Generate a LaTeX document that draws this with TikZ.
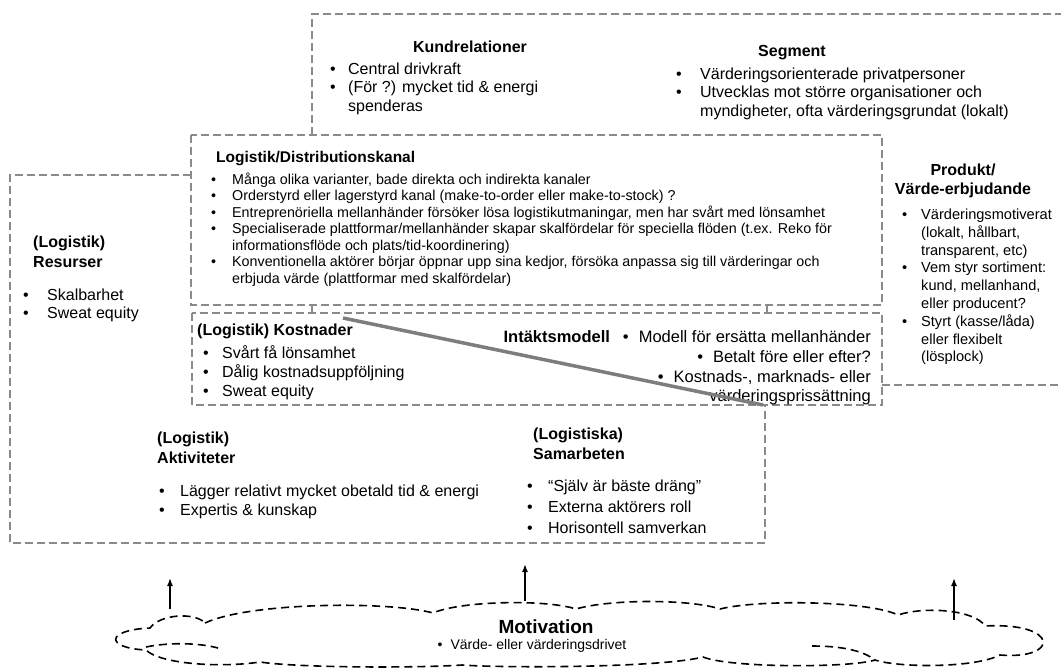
\documentclass[tikz,border=0pt]{standalone}
\usepackage{fontspec}
\setmainfont{Liberation Sans}
\usetikzlibrary{arrows.meta}
\definecolor{zonegray}{RGB}{138,138,138}
\definecolor{linkgray}{RGB}{125,125,125}
% bullet list: #1 = width of the bullet column, #2 = rows
\newcommand{\bulletlist}[2]{\begin{tabular}[t]{@{}p{#1}@{}l@{}}#2\end{tabular}}
\newcommand{\stack}[1]{\begin{tabular}[t]{@{}l@{}}#1\end{tabular}}
\begin{document}
\begin{tikzpicture}[x=1pt,y=-1pt,
  zone/.style={draw=zonegray, line width=2.2pt, dash pattern=on 8pt off 4pt},
  hdr/.style={inner sep=0pt, font=\fontsize{16}{20}\selectfont\bfseries},
  body/.style={inner sep=0pt, font=\fontsize{16}{18.5}\selectfont},
  small/.style={inner sep=0pt, font=\fontsize{14.3}{16.5}\selectfont},
  link/.style={draw=linkgray, line width=3.5pt},
  lift/.style={draw=black, line width=1.5pt, -{Latex[length=8pt,width=6pt]}},
  puff/.style={draw=black, line width=1.6pt, dash pattern=on 8pt off 5pt},
]
\useasboundingbox (0,0) rectangle (1061,670);

% ---- zone outlines ----
% customer relations / segments (open to the right)
\draw[zone] (312,135) -- (312,14) -- (1062,14);
% product / value offer (lower edge)
\draw[zone] (882,385) -- (1062,385);
% resources, activities, partners (the large L-shaped zone)
\draw[zone] (191,175) -- (10,175) -- (10,543) -- (765,543) -- (765,405);
% logistics / distribution channel
\draw[zone] (191,135) rectangle (882,305);
% costs and revenue model
\draw[zone] (192,313) rectangle (882,405);
% short joints between the channel and the cost zone
\draw[zone] (312,305) -- (312,313);
\draw[zone] (767,305) -- (767,313);

% ---- customer relations ----
\node[hdr, anchor=base] (kund-title) at (470,52) {Kundrelationer};
\node[body, anchor=base west] (kund-list) at (330,74) {\bulletlist{18pt}{%
  \textbullet & Central drivkraft\\
  \textbullet & (För ?) mycket tid \& energi\\
              & spenderas}};

% ---- segments ----
\node[hdr, anchor=base] (seg-title) at (792,56) {Segment};
\node[body, anchor=base west] (seg-list) at (676,79) {\bulletlist{24pt}{%
  \textbullet & Värderingsorienterade privatpersoner\\
  \textbullet & Utvecklas mot större organisationer och\\
              & myndigheter, ofta värderingsgrundat (lokalt)}};

% ---- logistics / distribution channel ----
\node[hdr, font=\fontsize{15.5}{18}\selectfont\bfseries, anchor=base west] (chan-title) at (216,162) {Logistik/Distributionskanal};
\node[small, anchor=base west] (chan-list) at (211,184) {\bulletlist{21pt}{%
  \textbullet & Många olika varianter, bade direkta och indirekta kanaler\\
  \textbullet & Orderstyrd eller lagerstyrd kanal (make-to-order eller make-to-stock) ?\\
  \textbullet & Entreprenöriella mellanhänder försöker lösa logistikutmaningar, men har svårt med lönsamhet\\
  \textbullet & Specialiserade plattformar/mellanhänder skapar skalfördelar för speciella flöden (t.ex. Reko för\\
              & informationsflöde och plats/tid-koordinering)\\
  \textbullet & Konventionella aktörer börjar öppnar upp sina kedjor, försöka anpassa sig till värderingar och\\
              & erbjuda värde (plattformar med skalfördelar)}};

% ---- resources ----
\node[hdr, anchor=base west] (res-title) at (33,247) {\stack{(Logistik)\\Resurser}};
\node[body, anchor=base west] (res-list) at (23,300) {\bulletlist{24pt}{%
  \textbullet & Skalbarhet\\
  \textbullet & Sweat equity}};

% ---- product / value offer ----
\node[hdr, anchor=base] (prod-title) at (963,175) {Produkt/};
\node[hdr, anchor=base] (prod-title2) at (963,194) {Värde-erbjudande};
\node[body, font=\fontsize{14.6}{17.8}\selectfont, anchor=base west] (prod-list) at (902,219.5) {\bulletlist{19pt}{%
  \textbullet & Värderingsmotiverat\\
              & (lokalt, hållbart,\\
              & transparent, etc)\\
  \textbullet & Vem styr sortiment:\\
              & kund, mellanhand,\\
              & eller producent?\\
  \textbullet & Styrt (kasse/låda)\\
              & eller flexibelt\\
              & (lösplock)}};

% ---- costs ----
\node[hdr, anchor=base west] (cost-title) at (197,335) {(Logistik) Kostnader};
\node[body, font=\fontsize{16}{19}\selectfont, anchor=base west] (cost-list) at (203,358.5) {\bulletlist{19pt}{%
  \textbullet & Svårt få lönsamhet\\
  \textbullet & Dålig kostnadsuppföljning\\
  \textbullet & Sweat equity}};

% ---- revenue model ----
\node[body, font=\fontsize{16.5}{19.8}\selectfont, anchor=base east] (rev-text) at (871,342.5) {\begin{tabular}[t]{@{}r@{}}%
  \textbf{Intäktsmodell}\hspace{13pt}\textbullet\hspace{10pt}Modell för ersätta mellanhänder\\
  \textbullet\hspace{10pt}Betalt före eller efter?\\
  \textbullet\hspace{10pt}Kostnads-, marknads- eller\\
  värderingsprissättning\end{tabular}};

% ---- activities ----
\node[hdr, anchor=base west] (act-title) at (157,443) {\stack{(Logistik)\\Aktiviteter}};
\node[body, font=\fontsize{16}{19}\selectfont, anchor=base west] (act-list) at (159,496) {\bulletlist{21pt}{%
  \textbullet & Lägger relativt mycket obetald tid \& energi\\
  \textbullet & Expertis \& kunskap}};

% ---- partners ----
\node[hdr, anchor=base west] (part-title) at (533,439) {\stack{(Logistiska)\\Samarbeten}};
\node[body, font=\fontsize{16}{21}\selectfont, anchor=base west] (part-list) at (527,491) {\bulletlist{21pt}{%
  \textbullet & “Själv är bäste dräng”\\
  \textbullet & Externa aktörers roll\\
  \textbullet & Horisontell samverkan}};

% ---- link between cost zone and revenue model ----
\coordinate (link-a) at (343,318);
\coordinate (link-b) at (763,405);
\draw[link] (link-a) -- (link-b);

% ---- motivation cloud (wide dashed cloud with lobes) ----
\draw[puff] (205,623)
  .. controls (250,602) and (390,601) .. (433,613)   % top lobes
  .. controls (460,601) and (545,599) .. (576,609)
  .. controls (610,599) and (690,599) .. (720,609)
  .. controls (760,599) and (870,601) .. (898,615)
  .. controls (925,606) and (975,610) .. (985,626)
  .. controls (1060,622) and (1060,660) .. (1000,655) % right end
  .. controls (975,668) and (900,668) .. (875,660)   % bottom lobes
  .. controls (850,668) and (730,668) .. (703,657)
  .. controls (660,668) and (500,668) .. (462,665)
  .. controls (420,668) and (300,668) .. (260,662)
  .. controls (220,668) and (160,664) .. (146,650)
  .. controls (105,648) and (105,630) .. (150,628)   % left end
  .. controls (160,614) and (195,612) .. (205,623);
% inner folds of the cloud
\draw[puff] (146,647) .. controls (170,642) and (200,643) .. (218,648);
\draw[puff] (812,646) .. controls (840,646) and (862,650) .. (875,660);
\node[inner sep=0pt, font=\fontsize{19}{22}\selectfont\bfseries] (motiv-title) at (546,627) {Motivation};
\node[inner sep=0pt, font=\fontsize{14}{16}\selectfont] (motiv-item) at (532,646) {\textbullet\hspace{8pt}Värde- eller värderingsdrivet};

% ---- upward arrows from the cloud ----
\coordinate (up-l0) at (170,609); \coordinate (up-l1) at (170,578);
\coordinate (up-m0) at (525,601); \coordinate (up-m1) at (525,564);
\coordinate (up-r0) at (954,620); \coordinate (up-r1) at (954,578);
\draw[lift] (up-l0) -- (up-l1);
\draw[lift] (up-m0) -- (up-m1);
\draw[lift] (up-r0) -- (up-r1);
\end{tikzpicture}
\end{document}
